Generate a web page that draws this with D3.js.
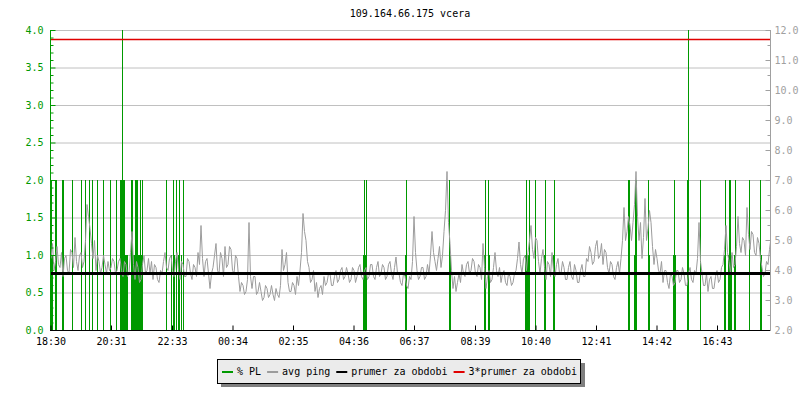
<!DOCTYPE html>
<html>
<head>
<meta charset="utf-8">
<script src="https://cdn.jsdelivr.net/npm/d3@7"></script>
<style>
  html, body { margin: 0; padding: 0; background: #ffffff; }
  svg { display: block; }
  text { font-family: "DejaVu Sans Mono", monospace; font-size: 10px; }
</style>
</head>
<body>
<svg id="chart" width="800" height="400"></svg>
<script>
// ---------------- DATA ----------------
const title = "109.164.66.175 vcera";
const startLabel = "18:30";
const periodMinutes = 1440;
const pingStepMinutes = 3;
const plStepMinutes = 2;

const tickLabels = ["18:30","20:31","22:33","00:34","02:35","04:36","06:37","08:39","10:40","12:41","14:42","16:43"];
const leftTicks = [0, 0.5, 1, 1.5, 2, 2.5, 3, 3.5, 4];
const rightTicks = [2, 3, 4, 5, 6, 7, 8, 9, 10, 11, 12];

// avg ping [ms], one value every 3 minutes from 18:30
const pingAvg = [
  4.4,4.9, 4.0,4.3, 4.8,4.2, 4.1,4.6, 3.8,4.4, 4.5,4.0, 3.9,4.7, 4.6,4.1, 5.1,4.3, 4.0,4.5,
  4.6,4.1, 4.3,5.0, 6.2,5.8, 5.4,4.9, 4.4,5.0, 4.0,4.5, 4.3,3.9, 4.1,4.5, 4.2,3.9, 4.3,4.0,
  4.1,4.4, 4.3,3.9, 4.0,4.3, 4.4,4.0, 3.8,4.3, 4.2,3.8, 3.9,4.6, 5.3,4.2, 3.7,4.3, 4.1,3.6,
  3.7,4.2, 4.5,3.9, 4.0,4.4, 3.9,4.3, 3.7,4.2, 4.1,3.7, 3.6,4.0, 3.9,4.3, 4.6,4.1, 4.0,4.4,
  4.5,4.0, 3.8,4.3, 4.6,4.0, 3.7,4.3, 4.2,3.8, 3.8,4.4, 4.3,3.9, 3.7,4.2, 4.1,3.8, 4.6,4.2,
  5.5,4.4, 3.8,4.3, 4.4,3.9, 3.4,3.9, 4.1,4.5, 4.9,4.0, 3.9,4.6, 4.4,3.8, 4.8,4.1, 4.2,4.8,
  4.7,4.0, 3.9,4.5, 4.4,3.8, 3.3,3.6, 3.5,3.2, 3.3,3.7, 5.6,3.8, 3.4,3.8, 3.8,3.2, 3.3,3.6,
  3.3,3.0, 3.1,3.5, 3.4,3.1, 3.2,3.5, 3.2,3.0, 3.4,3.2, 3.1,3.5, 4.7,4.0, 4.2,4.6, 3.6,3.3,
  3.3,3.6, 3.5,3.2, 3.8,3.5, 4.0,4.6, 5.9,5.3, 5.0,4.3, 4.1,3.6, 3.7,4.0, 3.3,3.6, 3.1,3.4,
  3.5,3.2, 3.8,3.5, 3.6,3.9, 3.9,3.5, 3.5,3.8, 4.0,3.6, 3.7,4.0, 4.1,3.7, 3.8,4.1, 3.9,3.6,
  3.7,4.1, 4.0,3.6, 3.8,4.1, 4.2,3.8, 3.7,4.0, 4.1,3.7, 3.8,4.2, 4.2,3.8, 3.7,4.1, 4.3,3.8,
  3.9,4.2, 4.1,3.7, 3.8,4.2, 4.3,3.9, 3.7,4.1, 4.45,3.9, 3.9,3.6, 3.5,3.9, 3.8,3.5, 3.4,3.8,
  3.7,4.3, 5.8,4.6, 4.0,3.7, 3.8,4.1, 4.1,3.7, 3.8,4.2, 3.9,4.5, 5.3,4.6, 4.3,4.0, 4.4,4.8,
  4.1,4.5, 5.3,6.0, 7.3,5.6, 4.9,4.0, 3.4,3.8, 3.3,3.6, 3.9,3.6, 4.2,3.9, 3.8,4.2, 4.3,3.9,
  4.0,4.4, 4.3,3.9, 3.8,4.2, 4.1,3.7, 4.9,4.1, 3.4,3.8, 4.0,3.6, 3.7,4.1, 4.6,4.0, 3.8,4.1,
  3.6,3.9, 4.0,3.6, 3.5,3.9, 3.8,3.5, 3.6,3.9, 4.0,4.4, 4.95,4.2, 3.9,4.4, 4.5,4.0, 4.6,5.0,
  5.5,4.7, 4.4,5.1, 5.0,4.3, 3.9,4.4, 4.7,4.1, 3.7,4.3, 4.2,3.8, 4.6,4.0, 3.8,4.2, 4.4,3.9,
  3.9,4.3, 4.1,3.7, 3.7,4.1, 4.3,3.8, 3.7,4.2, 4.0,3.6, 3.6,4.0, 4.2,3.8, 3.8,4.4, 4.3,4.8,
  4.6,4.2, 4.3,4.8, 5.0,4.4, 4.5,4.9, 4.2,4.7, 4.6,4.1, 3.9,4.3, 4.2,3.8, 3.7,4.1, 4.3,3.9,
  4.4,5.0, 6.1,5.0, 5.3,5.8, 5.5,5.0, 5.6,6.2, 7.3,5.8, 5.0,5.6, 4.4,5.1, 6.4,5.0, 5.4,6.0,
  5.6,4.8, 4.2,4.7, 4.4,4.0, 3.9,4.3, 3.6,4.0, 4.0,3.6, 3.4,3.9, 3.8,3.5, 3.6,4.0, 4.0,3.6,
  3.7,4.1, 3.9,3.5, 3.5,3.9, 4.1,3.7, 3.6,4.0, 3.9,4.4, 5.6,4.3, 3.9,3.5, 3.5,3.9, 3.3,3.7,
  3.8,3.4, 3.4,3.8, 4.0,3.6, 3.7,4.1, 4.2,4.7, 5.5,4.6, 4.3,3.9, 4.6,4.1, 4.2,4.8, 5.8,4.9,
  4.6,5.1, 5.0,4.5, 6.1,5.2, 4.7,5.3, 5.2,4.6, 4.5,5.1, 4.9,4.4, 4.1,3.8, 3.9,4.3, 4.2,4.7,
  5.1
];

// packet loss [%]: minute offset from 18:30 and value
const plMinutes = [0, 2, 8, 10, 22, 24, 42, 60, 68, 76, 82, 92, 104, 118, 130,
  138, 140, 142, 144, 146, 148, 150, 152,
  160, 162, 164, 166, 168, 170, 172, 174, 176, 178, 180, 182,
  230, 240, 244, 246, 250, 254, 256, 260, 264,
  624, 626, 628, 630, 708, 710, 796, 798, 866, 868, 874, 876,
  948, 950, 952, 954, 956, 968, 986, 988, 1004, 1006,
  1154, 1156, 1166, 1168, 1170, 1194, 1196, 1244, 1246, 1248,
  1272, 1274, 1298, 1346, 1348, 1354, 1356, 1358, 1360, 1366, 1368, 1396, 1418, 1420];
const plValues = [2, 1, 2, 2, 2, 2, 2, 2, 2, 2, 2, 2, 2, 2, 2,
  2, 2, 4, 2, 2, 1, 1, 1,
  2, 2, 1, 1, 2, 2, 2, 1, 1, 2, 1, 2,
  2, 1, 2, 1, 2, 1, 2, 1, 2,
  1, 2, 1, 2, 1, 2, 2, 1, 1, 2, 2, 1,
  1, 2, 1, 1, 2, 2, 1, 2, 1, 2,
  2, 2, 1, 2, 2, 2, 1, 1, 2, 1,
  2, 4, 2, 1, 2, 1, 2, 2, 1, 1, 2, 2, 2, 1];

const prumer = 3.9;          // average ping for the period
const prumer3 = 3 * prumer;  // 3 * average

const legendNames = ["% PL", "avg ping", "prumer za obdobi", "3*prumer za obdobi"];
const legendColors = ["#009900", "#9c9c9c", "#000000", "#e00000"];

// ---------------- DRAW ----------------
const green = "#009900", gray = "#9c9c9c", red = "#e00000";
const svg = d3.select("#chart");

const x = d3.scaleLinear().domain([0, periodMinutes]).range([51, 771]);
const yL = d3.scaleLinear().domain([0, 4]).range([330.5, 30.5]);
const yR = d3.scaleLinear().domain([2, 12]).range([330.5, 30.5]);

svg.append("defs").append("clipPath").attr("id", "plot")
  .append("rect").attr("x", 51).attr("y", 30).attr("width", 719).attr("height", 300);

// title
svg.append("text").attr("x", 410).attr("y", 17).attr("text-anchor", "middle")
  .attr("fill", "#000").text(title);

// grid
svg.append("g").selectAll("line").data(leftTicks.filter(d => d > 0)).join("line")
  .attr("x1", 51).attr("x2", 770).attr("y1", d => yL(d)).attr("y2", d => yL(d))
  .attr("stroke", "#c0c0c0").attr("stroke-width", 1);

// packet loss bars
svg.append("g").attr("clip-path", "url(#plot)").attr("shape-rendering", "crispEdges")
  .selectAll("rect").data(plMinutes).join("rect")
  .attr("x", d => x(d))
  .attr("width", d => x(d + plStepMinutes) - x(d))
  .attr("y", (d, i) => Math.floor(yL(plValues[i])))
  .attr("height", (d, i) => Math.floor(yL(0)) - Math.floor(yL(plValues[i])))
  .attr("fill", green);

// avg ping line
const line = d3.line().x((d, i) => x(i * pingStepMinutes)).y(d => yR(d));
svg.append("path").attr("clip-path", "url(#plot)").datum(pingAvg)
  .attr("d", line).attr("fill", "none").attr("stroke", gray).attr("stroke-width", 1);

// average lines
svg.append("line").attr("x1", 51).attr("x2", 770).attr("y1", yR(prumer)).attr("y2", yR(prumer))
  .attr("stroke", "#000").attr("stroke-width", 3);
svg.append("line").attr("x1", 51).attr("x2", 770).attr("y1", yR(prumer3)).attr("y2", yR(prumer3))
  .attr("stroke", red).attr("stroke-width", 1.5);

// axes
function styleAxis(g, color, textColor) {
  g.select(".domain").remove();
  g.selectAll(".tick line").attr("stroke", color);
  g.selectAll(".tick text").attr("fill", textColor)
    .style("font-family", "DejaVu Sans Mono, monospace").style("font-size", "10px");
}

// left (PL %)
const minorL = d3.range(0, 41).map(d => d / 10).filter(d => Math.round(d * 10) % 5 !== 0);
svg.append("g").attr("transform", "translate(50.5,0)")
  .call(d3.axisLeft(yL).tickValues(minorL).tickSizeInner(-3).tickSizeOuter(0).tickFormat("").offset(0))
  .call(g => styleAxis(g, green, green));
svg.append("g").attr("transform", "translate(50.5,0)")
  .call(d3.axisLeft(yL).tickValues(leftTicks).tickSizeInner(-5).tickSizeOuter(0).tickPadding(7)
    .tickFormat(d3.format(".1f")).offset(0))
  .call(g => styleAxis(g, green, green));
svg.append("line").attr("x1", 50.5).attr("x2", 50.5).attr("y1", 30).attr("y2", 331)
  .attr("stroke", green);

// right (ping ms)
const minorR = d3.range(2.5, 12, 1);
svg.append("g").attr("transform", "translate(770.5,0)")
  .call(d3.axisRight(yR).tickValues(minorR).tickSizeInner(-3).tickSizeOuter(0).tickFormat("").offset(0))
  .call(g => styleAxis(g, "#a0a0a0", "#a0a0a0"));
svg.append("g").attr("transform", "translate(770.5,0)")
  .call(d3.axisRight(yR).tickValues(rightTicks).tickSizeInner(-5).tickSizeOuter(0).tickPadding(4)
    .tickFormat(d3.format(".1f")).offset(0))
  .call(g => styleAxis(g, "#a0a0a0", "#a0a0a0"));
svg.append("line").attr("x1", 770.5).attr("x2", 770.5).attr("y1", 30).attr("y2", 331)
  .attr("stroke", "#a0a0a0");

// bottom (time)
const [sh, sm] = startLabel.split(":").map(Number);
const tickMinutes = tickLabels.map(s => {
  const [h, m] = s.split(":").map(Number);
  return ((h * 60 + m) - (sh * 60 + sm) + 1440) % 1440;
});
svg.append("g").attr("transform", "translate(0,330.5)")
  .call(d3.axisBottom(x).tickValues(tickMinutes).tickSizeInner(-5).tickSizeOuter(0).tickPadding(7)
    .tickFormat((d, i) => tickLabels[i]).offset(0))
  .call(g => styleAxis(g, "#000", "#000"));
svg.append("line").attr("x1", 50).attr("x2", 770).attr("y1", 330.5).attr("y2", 330.5)
  .attr("stroke", "#000");

// legend
const lg = svg.append("g");
lg.append("rect").attr("x", 221).attr("y", 363).attr("width", 364).attr("height", 24).attr("fill", "#7f7f7f");
lg.append("rect").attr("x", 217.5).attr("y", 359.5).attr("width", 363).attr("height", 24)
  .attr("fill", "#ebebeb").attr("stroke", "#000").attr("stroke-width", 1);
let cx = 222;
legendNames.forEach((name, i) => {
  lg.append("rect").attr("x", cx).attr("y", 371).attr("width", 11).attr("height", 2)
    .attr("fill", legendColors[i]);
  const t = lg.append("text").attr("x", cx + 15).attr("y", 375).attr("fill", "#000").text(name);
  const w = t.node().getComputedTextLength();
  cx = cx + 15 + w + 6;
});
</script>
</body>
</html>
